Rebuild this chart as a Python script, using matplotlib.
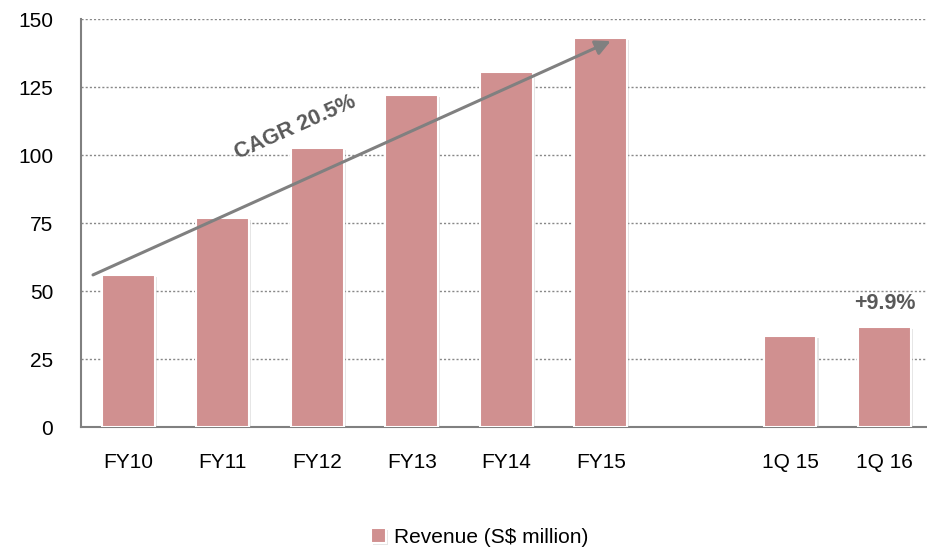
import matplotlib.pyplot as plt
import matplotlib.patheffects as pe

categories = ["FY10", "FY11", "FY12", "FY13", "FY14", "FY15", "1Q 15", "1Q 16"]
positions = [0, 1, 2, 3, 4, 5, 7, 8]
revenue = [56, 77, 102.5, 122, 130.5, 143, 33.5, 36.8]
yticks = [0, 25, 50, 75, 100, 125, 150]

plt.rcParams["font.family"] = ["Liberation Sans", "DejaVu Sans"]

fig = plt.figure(figsize=(9.28, 5.51), dpi=100)
ax = fig.add_axes([0.0873, 0.225, 0.9127, 0.7405])

bars = ax.bar(positions, revenue, width=0.56, color="#D09090", edgecolor="white",
              linewidth=1.5, zorder=3, label="Revenue (S$ million)")
for b in bars:
    b.set_path_effects([pe.SimplePatchShadow(offset=(1.5, -1.5), shadow_rgbFace="#aaaaaa", alpha=0.3),
                        pe.Normal()])

ax.set_xlim(-0.5, 8.46)
ax.set_ylim(0, 150)
ax.set_yticks(yticks)
ax.set_xticks(positions)
ax.set_xticklabels(categories)
ax.tick_params(axis="both", length=0, labelsize=15, colors="black")
ax.tick_params(axis="x", pad=19)
ax.tick_params(axis="y", pad=20)

ax.grid(axis="y", linestyle=(0, (1.5, 1.5)), color="#888888", linewidth=1, zorder=0)
for s in ["top", "right"]:
    ax.spines[s].set_visible(False)
for s in ["left", "bottom"]:
    ax.spines[s].set_color("#808080")
    ax.spines[s].set_linewidth(1.5)

# CAGR arrow
ax.annotate("", xy=(5.13, 142.3), xytext=(-0.4, 55.5),
            arrowprops=dict(arrowstyle="-|>,head_length=0.9,head_width=0.45",
                            color="#808080", lw=2.2), zorder=4)
ax.text(1.77, 110, "CAGR 20.5%", rotation=24, ha="center", va="center",
        fontsize=15.5, fontweight="bold", color="#595959", zorder=5)

ax.text(8, 45.5, "+9.9%", ha="center", va="center", fontsize=15.5,
        fontweight="bold", color="#595959")

fig.legend(loc="center", bbox_to_anchor=(0.517, 0.025), frameon=False,
           fontsize=15, handlelength=0.7, handleheight=0.7, handletextpad=0.4)

fig.savefig("out.png", dpi=100)
